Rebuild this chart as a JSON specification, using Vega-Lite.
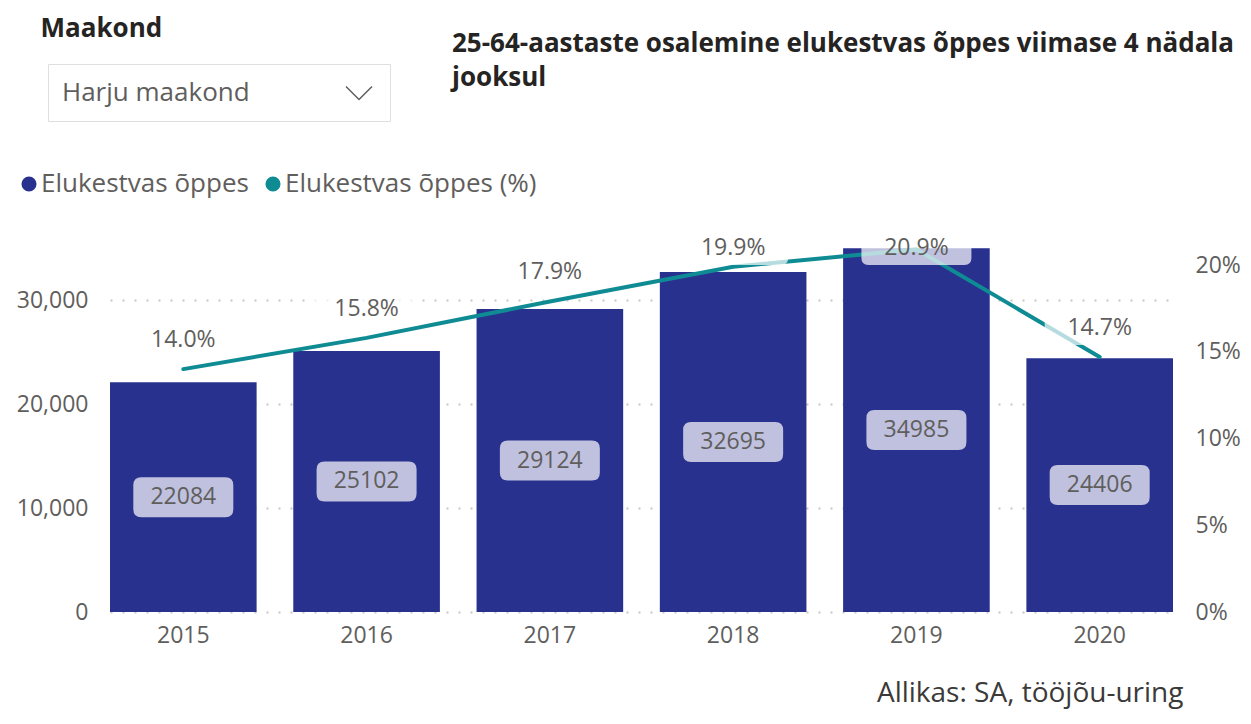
{
  "$schema": "https://vega.github.io/schema/vega-lite/v6.json",
  "autosize": {"type": "none"},
  "width": 1063,
  "height": 364,
  "padding": {"left": 110, "top": 248, "right": 78, "bottom": 112},
  "background": "white",
  "config": {
    "font": "Open Sans",
    "view": {"stroke": null}
  },
  "title": {
    "text": ["25-64-aastaste osalemine elukestvas õppes viimase 4 nädala", "jooksul"],
    "anchor": "start",
    "frame": "group",
    "dx": 342,
    "offset": -76,
    "fontSize": 26,
    "fontWeight": "bold",
    "color": "#252423",
    "lineHeight": 34
  },
  "data": {
    "values": [
      {"aasta": "2015", "value": 22084, "pct": 0.140, "maakond": "Harju maakond"},
      {"aasta": "2016", "value": 25102, "pct": 0.158, "maakond": "Harju maakond"},
      {"aasta": "2017", "value": 29124, "pct": 0.179, "maakond": "Harju maakond"},
      {"aasta": "2018", "value": 32695, "pct": 0.199, "maakond": "Harju maakond"},
      {"aasta": "2019", "value": 34985, "pct": 0.209, "maakond": "Harju maakond"},
      {"aasta": "2020", "value": 24406, "pct": 0.147, "maakond": "Harju maakond"}
    ]
  },
  "encoding": {
    "x": {
      "field": "aasta",
      "type": "ordinal",
      "scale": {"paddingInner": 0.2, "paddingOuter": 0},
      "axis": {
        "labelAngle": 0,
        "labelFontSize": 23,
        "labelColor": "#605E5C",
        "labelPadding": 12,
        "ticks": false,
        "domain": false,
        "grid": false,
        "title": "Allikas: SA, tööjõu-uring",
        "titleX": 1073,
        "titleY": 89,
        "titleAlign": "right",
        "titleBaseline": "alphabetic",
        "titleFontSize": 28,
        "titleFontWeight": "normal",
        "titleColor": "#3B3A39"
      }
    }
  },
  "layer": [
    {
      "mark": {"type": "bar"},
      "encoding": {
        "y": {
          "field": "value",
          "type": "quantitative",
          "scale": {"domain": [0, 35000], "nice": false},
          "axis": {
            "orient": "left",
            "values": [0, 10000, 20000, 30000],
            "format": ",d",
            "grid": true,
            "gridDash": [2, 10],
            "gridColor": "#C8C6C4",
            "gridWidth": 2,
            "domain": false,
            "ticks": false,
            "labelPadding": 22,
            "labelFontSize": 23,
            "labelColor": "#605E5C",
            "title": "Maakond",
            "titleAngle": 0,
            "titleAlign": "left",
            "titleBaseline": "alphabetic",
            "titleX": -70,
            "titleY": -212,
            "titleFontSize": 26,
            "titleFontWeight": "bold",
            "titleColor": "#252423"
          }
        },
        "color": {
          "datum": "Elukestvas õppes",
          "type": "nominal",
          "scale": {
            "domain": ["Elukestvas õppes", "Elukestvas õppes (%)"],
            "range": ["#29318F", "#0F8B94"]
          },
          "legend": {
            "orient": "none",
            "legendX": -94,
            "legendY": -77,
            "direction": "horizontal",
            "title": null,
            "symbolType": "circle",
            "symbolSize": 227,
            "symbolStrokeWidth": 0,
            "labelFontSize": 26,
            "labelColor": "#605E5C",
            "labelOffset": -1,
            "labelLimit": 400,
            "columnPadding": 11,
            "padding": 0
          }
        }
      }
    },
    {
      "encoding": {
        "y": {
          "field": "value",
          "type": "quantitative",
          "scale": {"domain": [0, 70000], "nice": false},
          "axis": null
        }
      },
      "layer": [
        {
          "mark": {
            "type": "point",
            "shape": "M-0.84,-0.4L0.84,-0.4Q1,-0.4 1,-0.24L1,0.24Q1,0.4 0.84,0.4L-0.84,0.4Q-1,0.4 -1,0.24L-1,-0.24Q-1,-0.4 -0.84,-0.4Z",
            "size": 10000,
            "filled": true,
            "fill": "white",
            "fillOpacity": 0.7,
            "opacity": 1,
            "strokeWidth": 0
          }
        },
        {
          "mark": {"type": "text", "fontSize": 23, "color": "#605E5C", "baseline": "middle"},
          "encoding": {"text": {"field": "value", "type": "quantitative", "format": "d"}}
        }
      ]
    },
    {
      "encoding": {
        "y": {
          "field": "pct",
          "type": "quantitative",
          "scale": {"domain": [0, 0.2098], "nice": false},
          "axis": {
            "orient": "right",
            "values": [0, 0.05, 0.1, 0.15, 0.2],
            "format": ".0%",
            "title": null,
            "grid": false,
            "domain": false,
            "ticks": false,
            "labelPadding": 22,
            "labelFontSize": 23,
            "labelColor": "#605E5C"
          }
        }
      },
      "layer": [
        {
          "mark": {"type": "line", "color": "#0F8B94", "strokeWidth": 4, "strokeCap": "round"}
        },
        {
          "mark": {"type": "point", "opacity": 0, "filled": false, "color": "#605E5C", "strokeWidth": 1.5},
          "encoding": {
            "shape": {
              "field": "maakond",
              "type": "nominal",
              "scale": {"range": ["M-1,-0.5L0,0.5L1,-0.5"]},
              "legend": {
                "orient": "none",
                "legendX": -62,
                "legendY": -184,
                "title": null,
                "strokeColor": "#E1DFDD",
                "padding": 15,
                "labelFontSize": 26,
                "labelColor": "#605E5C",
                "labelLimit": 400,
                "labelOffset": -311,
                "symbolSize": 676,
                "symbolOffset": 282,
                "symbolStrokeWidth": 1.5,
                "symbolStrokeColor": "#605E5C",
                "symbolFillColor": "transparent",
                "symbolOpacity": 1
              }
            }
          }
        }
      ]
    },
    {
      "encoding": {
        "y": {
          "field": "pct",
          "type": "quantitative",
          "scale": {"domain": [-0.0167, 0.1931], "nice": false, "zero": false, "clamp": true},
          "axis": null
        }
      },
      "layer": [
        {
          "mark": {
            "type": "point",
            "shape": "M-0.873,-0.309L0.873,-0.309Q1,-0.309 1,-0.182L1,0.182Q1,0.309 0.873,0.309L-0.873,0.309Q-1,0.309 -1,0.182L-1,-0.182Q-1,-0.309 -0.873,-0.309Z",
            "size": 12100,
            "filled": true,
            "fill": "white",
            "fillOpacity": 0.7,
            "opacity": 1,
            "strokeWidth": 0
          }
        },
        {
          "mark": {"type": "text", "fontSize": 23, "color": "#605E5C", "baseline": "middle"},
          "encoding": {"text": {"field": "pct", "type": "quantitative", "format": ".1%"}}
        }
      ]
    }
  ],
  "resolve": {"scale": {"y": "independent"}}
}
